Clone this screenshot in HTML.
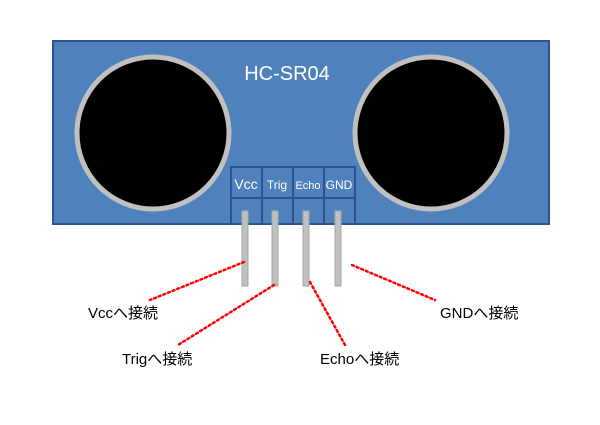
<!DOCTYPE html>
<html><head><meta charset="utf-8"><style>
body{margin:0;background:#fff;}
</style></head><body>
<svg width="600" height="420" xmlns="http://www.w3.org/2000/svg" font-family="Liberation Sans, Noto Sans CJK JP, sans-serif">
<rect x="53" y="41" width="496" height="183" fill="#4f81bd" stroke="#2f528f" stroke-width="2"/>
<circle cx="153" cy="133" r="76" fill="#000" stroke="#c0c0c0" stroke-width="5"/>
<circle cx="431" cy="133" r="76" fill="#000" stroke="#c0c0c0" stroke-width="5"/>
<text x="287" y="80" font-size="20" fill="#fff" text-anchor="middle">HC-SR04</text>
<g fill="#4f81bd" stroke="#2f528f" stroke-width="2">
<rect x="231" y="167" width="31" height="31"/><rect x="262" y="167" width="31" height="31"/>
<rect x="293" y="167" width="31" height="31"/><rect x="324" y="167" width="31" height="31"/>
<rect x="231" y="198" width="31" height="26"/><rect x="262" y="198" width="31" height="26"/>
<rect x="293" y="198" width="31" height="26"/><rect x="324" y="198" width="31" height="26"/>
</g>
<g fill="#fff" text-anchor="middle">
<text x="246" y="189" font-size="14">Vcc</text>
<text x="277" y="189" font-size="12">Trig</text>
<text x="308" y="189" font-size="11">Echo</text>
<text x="339" y="189" font-size="12">GND</text>
</g>
<g fill="#c0c0c0" stroke="#a6a6a6" stroke-width="1">
<rect x="242" y="211" width="6" height="75"/><rect x="272" y="211" width="6" height="75"/>
<rect x="303" y="211" width="6" height="75"/><rect x="335" y="211" width="6" height="75"/>
</g>
<g stroke="#ff0000" stroke-width="2.5" stroke-dasharray="2 3" stroke-linecap="round">
<line x1="244" y1="262" x2="150" y2="300"/>
<line x1="274" y1="285" x2="178" y2="345"/>
<line x1="310" y1="282" x2="345" y2="345"/>
<line x1="352" y1="265" x2="435" y2="300"/>
</g>
<g font-size="15" fill="#000">
<text x="88" y="318">Vccへ接続</text>
<text x="122" y="364">Trigへ接続</text>
<text x="320" y="364">Echoへ接続</text>
<text x="440" y="318">GNDへ接続</text>
</g>
</svg>
</body></html>
